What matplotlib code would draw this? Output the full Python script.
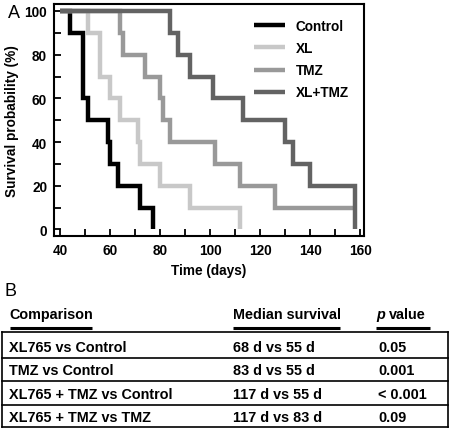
import matplotlib
matplotlib.use("Agg")
import matplotlib.pyplot as plt
from matplotlib.ticker import MultipleLocator

plt.rcParams['font.family'] = ['Liberation Sans', 'DejaVu Sans']
plt.rcParams['font.weight'] = 'bold'

# Kaplan-Meier steps: time (days) where each survival level starts
control_t = [40, 44, 49, 51, 59, 60, 63, 72, 77]
control_s = [100, 90, 60, 50, 40, 30, 20, 10, 0]
xl_t = [40, 51, 56, 60, 64, 71, 72, 80, 92, 112]
xl_s = [100, 90, 70, 60, 50, 40, 30, 20, 10, 0]
tmz_t = [40, 64, 65, 74, 80, 81, 84, 102, 112, 126, 158]
tmz_s = [100, 90, 80, 70, 60, 50, 40, 30, 20, 10, 10]
combo_t = [40, 84, 87, 92, 101, 113, 130, 133, 140, 158]
combo_s = [100, 90, 80, 70, 60, 50, 40, 30, 20, 0]

groups = ['Control', 'XL', 'TMZ', 'XL+TMZ']
colors = ['#000000', '#c8c8c8', '#999999', '#636363']

# table in panel B
headers = ['Comparison', 'Median survival', 'value']
comparisons = ['XL765 vs Control', 'TMZ vs Control',
               'XL765 + TMZ vs Control', 'XL765 + TMZ vs TMZ']
medians = ['68 d vs 55 d', '83 d vs 55 d', '117 d vs 55 d', '117 d vs 83 d']
pvals = ['0.05', '0.001', '< 0.001', '0.09']

W, H = 450, 435
fig = plt.figure(figsize=(W / 100, H / 100), dpi=100)

# ---- Panel A ----
ax = fig.add_axes([54 / W, 1 - 237 / H, 310 / W, 232 / H])
for t, s, c, lab in zip([control_t, xl_t, tmz_t, combo_t],
                        [control_s, xl_s, tmz_s, combo_s], colors, groups):
    ax.plot(t, s, drawstyle='steps-post', color=c, lw=3.2, label=lab,
            solid_joinstyle='miter', solid_capstyle='butt')

ax.set_xlim(37.6, 161.6)
ax.set_ylim(-3, 103.2)
ax.xaxis.set_major_locator(MultipleLocator(20))
ax.xaxis.set_minor_locator(MultipleLocator(10))
ax.yaxis.set_major_locator(MultipleLocator(20))
ax.yaxis.set_minor_locator(MultipleLocator(10))
ax.tick_params(which='both', direction='in', width=1.3, labelsize=9.8, pad=5, length=5)
for sp in ax.spines.values():
    sp.set_linewidth(1.5)
ax.set_xlabel('Time (days)', fontsize=9.8, fontweight='bold', labelpad=4)
ax.set_ylabel('Survival probability (%)', fontsize=9.8, fontweight='bold', labelpad=4)
for lbl in ax.get_xticklabels() + ax.get_yticklabels():
    lbl.set_fontweight('bold')

leg = ax.legend(loc='upper right', bbox_to_anchor=(1.0, 1.0), frameon=False,
                fontsize=9.8, handlelength=2.3, handletextpad=0.8,
                labelspacing=0.6, borderaxespad=0.7)
for txt in leg.get_texts():
    txt.set_fontweight('bold')

fig.text(8 / W, 1 - 13 / H, 'A', fontsize=13, fontweight='normal', va='center')
fig.text(5 / W, 1 - 292 / H, 'B', fontsize=13, fontweight='normal', va='center')

# ---- Panel B (table) ----
tb = fig.add_axes([0, 0, 1, 1])
tb.set_xlim(0, W)
tb.set_ylim(H, 0)
tb.axis('off')

fs = 10.4
col_x = [9, 233, 378]
hdr_y = 315
tb.text(col_x[0], hdr_y, headers[0], fontsize=fs, fontweight='bold', va='center')
tb.text(col_x[1], hdr_y, headers[1], fontsize=fs, fontweight='bold', va='center')
tb.text(376, hdr_y, 'p', fontsize=fs, fontweight='bold', style='italic', va='center')
tb.text(389, hdr_y, headers[2], fontsize=fs, fontweight='bold', va='center')
for x0, x1 in [(10, 92), (233, 340), (376, 430)]:
    tb.plot([x0, x1], [328.5, 328.5], color='black', lw=2.2, solid_capstyle='butt')

row_y = [348, 371, 395, 418]
lines_y = [333, 359, 382, 406, 428]
for y in lines_y:
    tb.plot([2, 448], [y, y], color='black', lw=1.2)
tb.plot([2, 2], [lines_y[0], lines_y[-1]], color='black', lw=1.2)
tb.plot([448, 448], [lines_y[0], lines_y[-1]], color='black', lw=1.2)
for y, c1, c2, c3 in zip(row_y, comparisons, medians, pvals):
    tb.text(col_x[0], y, c1, fontsize=fs, fontweight='bold', va='center')
    tb.text(col_x[1], y, c2, fontsize=fs, fontweight='bold', va='center')
    tb.text(col_x[2], y, c3, fontsize=fs, fontweight='bold', va='center')

fig.savefig('out.png', dpi=100)
